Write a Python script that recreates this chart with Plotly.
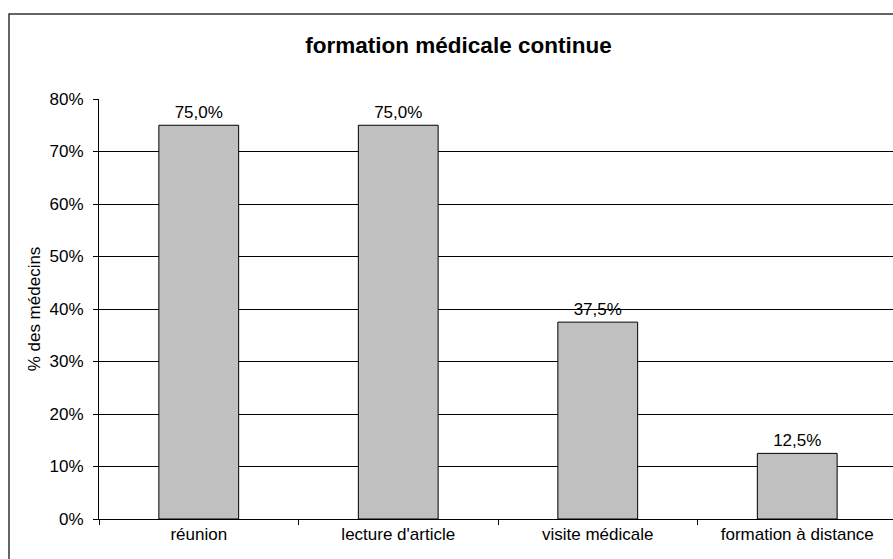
import plotly.graph_objects as go

categories = ["réunion", "lecture d'article", "visite médicale", "formation à distance"]
shares = [0.75, 0.75, 0.375, 0.125]
y_ticks = [0, 0.1, 0.2, 0.3, 0.4, 0.5, 0.6, 0.7, 0.8]

FONT = "Liberation Sans, Arial, sans-serif"

# étiquettes au format français (virgule décimale)
labels = [f"{v * 100:.1f}%".replace(".", ",") for v in shares]

# la zone de tracé déborde légèrement à droite, comme dans l'original
W, H = 897, 559
PW = W - 99

fig = go.Figure(
    go.Bar(
        x=categories,
        y=shares,
        text=labels,
        textposition="outside",
        textfont=dict(size=17, color="black", family=FONT),
        marker=dict(color="#C0C0C0", line=dict(color="black", width=1)),
        cliponaxis=False,
    )
)

fig.update_layout(
    width=W,
    height=H,
    margin=dict(l=99, r=0, t=99, b=40, autoexpand=False),
    paper_bgcolor="white",
    plot_bgcolor="white",
    bargap=0.6,
    showlegend=False,
    font=dict(family=FONT, size=17, color="black"),
    title=dict(
        text="<b>formation médicale continue</b>",
        font=dict(size=22.5, color="black", family=FONT),
        x=(458.5 - 99) / PW,
        xref="paper",
        xanchor="center",
        y=1 - 45 / H,
        yref="container",
        yanchor="middle",
    ),
    shapes=[
        dict(
            type="rect",
            xref="paper",
            yref="paper",
            x0=(9 - 99) / PW,
            x1=1.05,
            y0=-0.3,
            y1=(519 - 14) / 420,
            line=dict(color="#333333", width=1.5),
            layer="below",
        )
    ],
)

fig.update_xaxes(
    type="category",
    range=[-0.5, 3.5],
    automargin=False,
    showline=True,
    linecolor="black",
    linewidth=1,
    ticks="outside",
    tickson="boundaries",
    ticklen=5,
    tickcolor="black",
    showgrid=False,
    tickfont=dict(size=17, color="black", family=FONT),
)

fig.update_yaxes(
    range=[0, 0.8],
    tickvals=y_ticks,
    tickformat=".0%",
    automargin=False,
    showline=True,
    linecolor="black",
    linewidth=1,
    ticks="outside",
    ticklen=5,
    tickcolor="black",
    ticklabelstandoff=6,
    showgrid=True,
    gridcolor="black",
    gridwidth=1,
    zeroline=False,
    tickfont=dict(size=17, color="black", family=FONT),
    title=dict(text="% des médecins", font=dict(size=17, color="black", family=FONT), standoff=4),
)

# pas de marge de page ni de barres de défilement
fig.write_html(
    "out.html",
    config={"displayModeBar": False},
    post_script="document.body.style.margin='0';document.body.style.overflow='hidden';",
)
